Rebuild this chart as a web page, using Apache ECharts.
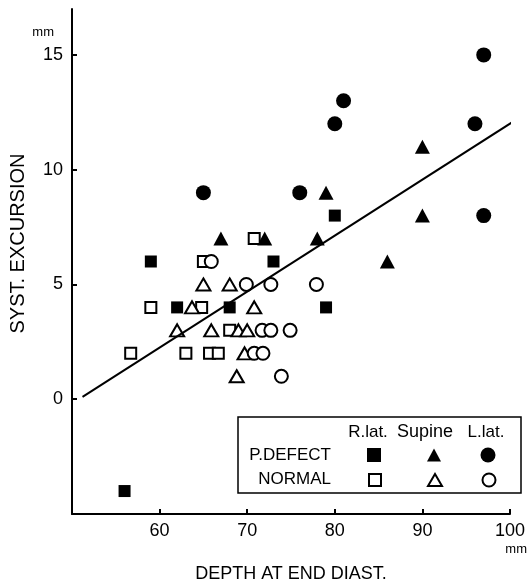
<!DOCTYPE html>
<html><head><meta charset="utf-8">
<script src="https://cdn.jsdelivr.net/npm/echarts@6/dist/echarts.min.js"></script>
<style>html,body{margin:0;padding:0;background:#fff}#c{width:531px;height:582px}</style>
</head><body><div id="c"></div>
<script>
// [depth at end diastole (mm), systolic excursion (mm)]
const pdefectRlat   = [[59,6],[62,4],[68,4],[73,6],[80,8],[79,4],[56,-4]];
const pdefectSupine = [[67,7],[72,7],[78,7],[79,9],[86,6],[90,11],[90,8]];
const pdefectLlat   = [[65,9],[76,9],[80,12],[81,13],[96,12],[97,15],[97,8]];
const normalRlat    = [[59,4],[56.7,2],[63,2],[65.7,2],[66.7,2],[65,6],[64.8,4],[68,3],[70.8,7]];
const normalSupine  = [[62,3],[65.9,3],[69,3],[70,3],[65,5],[68,5],[63.7,4],[70.8,4],[69.7,2],[68.8,1]];
const normalLlat    = [[65.9,6],[69.9,5],[72.7,5],[77.9,5],[71.7,3],[72.7,3],[74.9,3],[70.8,2],[71.8,2],[73.9,1]];
const regressionLine = [[51.2,0.1],[101.2,12.3]];
const xTicks = [60,70,80,90,100];
const yTicks = [0,5,10,15];

const FONT = '"Liberation Sans", Arial, sans-serif';
const filled = {color:'#000', opacity:1};
const open = {color:'#fff', borderColor:'#000', borderWidth:2, opacity:1};

const chart = echarts.init(document.getElementById('c'), null, {renderer:'canvas'});

function legendAt(name, cx, cy, w, h){
  return {
    data:[name], left: cx - w/2, top: cy - h/2, padding:0, itemGap:0,
    itemWidth:w, itemHeight:h, formatter:()=> '', selectedMode:false,
    textStyle:{fontSize:1}
  };
}

chart.setOption({
  animation:false,
  backgroundColor:'#fff',
  grid:{left:72, right:21, top:9, bottom:68, outerBoundsMode:'none'},
  xAxis:{
    type:'value', min:50, max:100, interval:10,
    name:'DEPTH AT END DIAST.', nameLocation:'middle', nameGap:51,
    nameTextStyle:{fontFamily:FONT, fontSize:18, color:'#000'},
    axisLine:{onZero:false, lineStyle:{color:'#000', width:2}},
    axisTick:{inside:true, length:5, customValues:xTicks, lineStyle:{color:'#000', width:2}},
    axisLabel:{customValues:xTicks, fontFamily:FONT, fontSize:18, color:'#000', margin:8},
    splitLine:{show:false}
  },
  yAxis:{
    type:'value', min:-5, max:17, interval:5,
    name:'SYST. EXCURSION', nameLocation:'middle', nameGap:44,
    nameTextStyle:{fontFamily:FONT, fontSize:20, color:'#000', padding:[0,0,0,36]},
    axisLine:{onZero:false, lineStyle:{color:'#000', width:2}},
    axisTick:{inside:true, length:5, customValues:yTicks, lineStyle:{color:'#000', width:2}},
    axisLabel:{customValues:yTicks, fontFamily:FONT, fontSize:18, color:'#000', margin:9},
    splitLine:{show:false}
  },
  legend:[
    legendAt('P.DEFECT R.lat.', 374, 455, 14, 14),
    legendAt('P.DEFECT Supine', 434, 455, 14, 13),
    legendAt('P.DEFECT L.lat.', 488, 455, 15, 15),
    legendAt('NORMAL R.lat.', 374, 479, 12, 12),
    legendAt('NORMAL Supine', 434, 479, 14, 12),
    legendAt('NORMAL L.lat.', 488, 479, 13, 13)
  ],
  graphic:[
    {type:'rect', shape:{x:238, y:417, width:283, height:76}, style:{fill:'#fff', stroke:'#000', lineWidth:1.5}, z:-1},
    {type:'text', x:368, y:432, style:{text:'R.lat.', font:'17px '+FONT, fill:'#000', textAlign:'center', textVerticalAlign:'middle'}},
    {type:'text', x:425, y:432, style:{text:'Supine', font:'18px '+FONT, fill:'#000', textAlign:'center', textVerticalAlign:'middle'}},
    {type:'text', x:486, y:432, style:{text:'L.lat.', font:'17px '+FONT, fill:'#000', textAlign:'center', textVerticalAlign:'middle'}},
    {type:'text', x:331, y:455, style:{text:'P.DEFECT', font:'17px '+FONT, fill:'#000', textAlign:'right', textVerticalAlign:'middle'}},
    {type:'text', x:331, y:479, style:{text:'NORMAL', font:'17px '+FONT, fill:'#000', textAlign:'right', textVerticalAlign:'middle'}},
    {type:'text', x:54, y:32, style:{text:'mm', font:'13px '+FONT, fill:'#000', textAlign:'right', textVerticalAlign:'middle'}},
    {type:'text', x:527, y:549, style:{text:'mm', font:'13px '+FONT, fill:'#000', textAlign:'right', textVerticalAlign:'middle'}}
  ],
  series:[
    {name:'P.DEFECT R.lat.', type:'scatter', data:pdefectRlat, symbol:'rect', symbolSize:12, itemStyle:filled},
    {name:'P.DEFECT Supine', type:'scatter', data:pdefectSupine, symbol:'triangle', symbolSize:[15,14], itemStyle:filled},
    {name:'P.DEFECT L.lat.', type:'scatter', data:pdefectLlat, symbol:'circle', symbolSize:15, itemStyle:filled},
    {name:'NORMAL R.lat.', type:'scatter', data:normalRlat, symbol:'rect', symbolSize:11, itemStyle:open},
    {name:'NORMAL Supine', type:'scatter', data:normalSupine, symbol:'triangle', symbolSize:[14,12], itemStyle:open},
    {name:'NORMAL L.lat.', type:'scatter', data:normalLlat, symbol:'circle', symbolSize:13, itemStyle:open},
    {name:'regression', type:'line', data:regressionLine, showSymbol:false, clip:false, silent:true,
     lineStyle:{color:'#000', width:2}, z:5}
  ]
});
</script></body></html>
